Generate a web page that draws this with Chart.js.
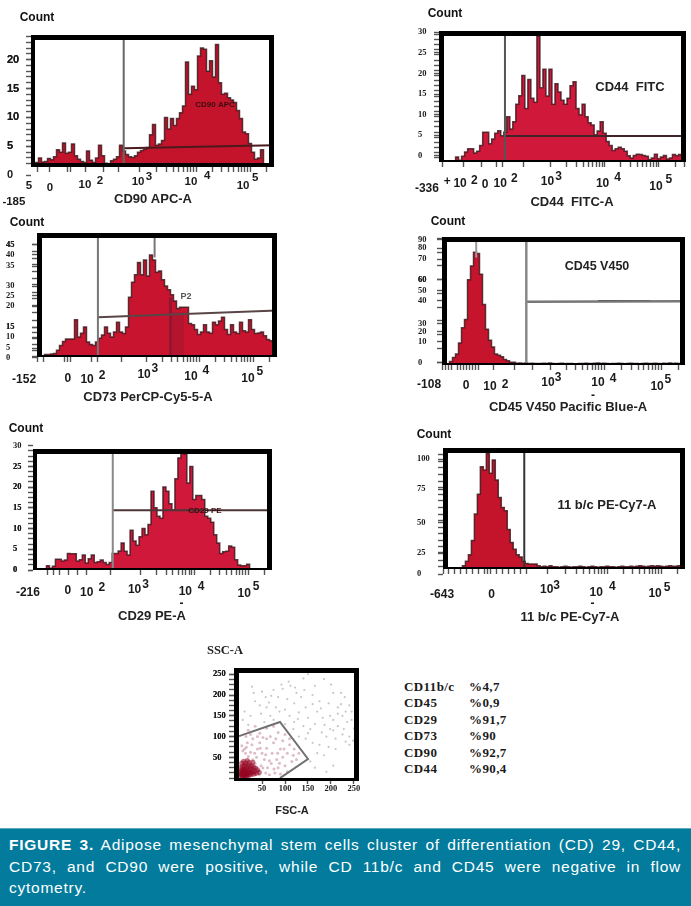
<!DOCTYPE html>
<html>
<head>
<meta charset="utf-8">
<title>Figure 3</title>
<script src="https://cdn.jsdelivr.net/npm/chart.js@4"></script>
<style>
html, body { margin: 0; padding: 0; background: #fff; }
#page { position: relative; width: 691px; height: 906px; overflow: hidden; background: #fff; }
canvas { position: absolute; }
.row { position: absolute; font: bold 13px "Liberation Serif", serif; letter-spacing: .4px; color: #1a1a1a; white-space: nowrap; }
#caption { position: absolute; left: 0; top: 828px; width: 691px; height: 78px; background: #027b9c; border-top: 1px solid #5aa9c0; box-sizing: border-box; color: #fff; font: 15.5px/21.5px "Liberation Sans", sans-serif; letter-spacing: .75px; }
#caption div { position: absolute; left: 9px; width: 672px; text-align: justify; text-align-last: justify; white-space: nowrap; }
#caption div:last-child { text-align-last: left; }
</style>
</head>
<body>
<div id="page"></div>
<script>
// histogram heights, one value per bin of the x axis
const cd90Counts = [1.6,1.8,2.2,3.0,2.3,2.4,2.9,2.7,3.2,4.4,4.0,5.6,3.8,4.0,5.4,3.4,2.8,2.4,2.2,4.2,2.6,2.2,3.0,5.2,3.4,2.1,1.9,2.5,2.8,3.2,5.2,4.2,3.6,3.2,3.1,3.4,4.0,4.3,4.5,4.8,7.0,8.8,5.2,5.4,6.0,10.0,8.0,9.8,8.6,9.8,10.8,12,19.6,14,15.4,14.8,20.6,22,21.8,18,19.8,17,22.6,16,14,14.2,13.4,13,12.6,11.2,9.8,7.5,7.2,5.5,4.0,2.8,3.0,4.4,1.9,1.7,1.6];
const cd44Counts = [0.2,0.2,0.2,0.2,0.2,0.3,1.2,0.4,1.4,2.4,3.2,3.2,2.2,2.6,4.0,7.2,7.2,4.4,5.6,7.0,7.6,6.4,7.2,11.0,8.0,9.8,14.0,16.1,21.0,13.0,20.0,15.5,14.5,30.5,18,22.5,16,22.5,14,19,17,15,14,15.5,18.5,19.5,13,11.5,14,11,9.5,9,6.6,7.5,9.8,7,5,4,2.8,3.2,3.6,3.2,2.6,1.5,1,1.6,1.9,1.8,1.6,1.4,0.6,1.0,1.9,0.8,1.2,1.6,0.7,1.0,1.8,1.5,1.8,1.5];
const cd73Counts = [0.2,0.2,0.4,1,1,1.2,1.4,2.7,4.6,6.2,7.2,7.2,7.2,15,8,9.5,12,6,5,4.6,6,7.5,8.8,12,9.5,8,10,14,10,9.4,12,24,30,33,38,33,39,32.5,41,39,34,34.5,31,28.5,27,25,22.5,19.5,20,20,20,13.5,13,11,9,10,13,10,9.5,14,13,14.5,16,11,9,13,10,9.4,14,10.5,10,15,11,9.4,9.6,10,8.5,7,6.5,6];
const cd45Counts = [0,0,0.8,2.5,5.5,8,16,27,33,62,72,82,81,66,44,26,18,13,8,7,6,4,3,2,2,1.2,1.5,1,1.5,1,1.2,1,1,1,1.2,1,1.4,1,0.8,1,1.2,0.8,1,1,0.8,0.8,1,1,1.2,1,1,1.2,1.4,1,1.2,1,0.8,1,1,1.2,1,0.8,1,1.2,1,1,0.8,1,1.2,1,1,1.2,1,0.8,1.2,1,1.4,1,1.2,1,1];
const cd29Counts = [0,0,0,0.2,0.3,1,0.4,0.9,2.6,2.6,2.2,2.4,4,3.9,3.9,2.2,2.5,3.6,1.7,2.7,3.6,1.8,2,2.4,1.8,1.3,1.8,4,4,4.6,6.5,4.5,3.6,9.6,7,6,8,10,8.5,11,19,15,13,12.5,20,19,16,14.5,22,27,29,28,21,25,17,18,18,17,13,12.5,11.5,8.5,6.5,4,4.4,4.5,5.8,5.5,2.5,1.2,1,1,1.4,0.3,0,0,0,0,0,0];
const cd11Counts = [0,0.5,0.5,0.5,0.5,0.5,0.5,3,7,13,26,50,68,93,90,105,87,99,81,65,56,53,36,24,18,13,11,7,5,4.5,4.5,4.5,3,2,2.5,2,3,2,2,1.5,2,2.5,2,1.5,2,2,2.5,2,1.5,2,2.5,2,1.5,2,2,2.5,2,2,1.5,2,2.5,2,2,2.5,2,2.5,3,2.5,2,2.5,3,2.5,3,2.5,2,2.5,3,2.5,2.5,3,2.5];

// y tick labels and where they sit on the y scale
const cd90YText = ['20','15','10','5','0'];
const cd90YAt = [20,15,10,5,0];
const cd44YText = ['30','25','20','15','10','5','0'];
const cd44YAt = [31.5,26.5,21.5,16.5,11.5,6.5,1.5];
const cd73YText = ['45','40','35','30','25','20','15','10','5','0'];
const cd73YAt = [45,41,36.5,28.5,24.5,20.4,12,8,3.6,-0.4];
const cd45YText = ['90','80','70','60','50','40','30','20','10','0'];
const cd45YAt = [91,85,77,62,54,47,30,24,17,1.5];
const cd29YText = ['30','25','20','15','10','5','0'];
const cd29YAt = [30,25,20,15,10,5,0];
const cd11YText = ['100','75','50','25','0'];
const cd11YAt = [100,72.5,42,14.7,-4.6];

// x tick labels: text, position in bins, distance below the frame
const cd90XText = ['-185','5','0','10','2','10','3','10','4','10','5'];
const cd90XAt = [-5.7,-0.7,6.3,18,23,35.7,39.3,53.3,58.7,70.7,74.7];
const cd90XDrop = [35,19,21,18,14,15,10,15,9,19,11];
const cd44XText = ['-336','+','10','2','0','10','2','10','3','10','4','10','5'];
const cd44XAt = [-4,2.7,7,11.7,15.3,20.3,25,36,39.7,54.3,59.3,72,76.3];
const cd44XDrop = [27,20,22,19,23,22,17,20,15,22,16,25,18];
const cd73XText = ['-152','0','10','2','10','3','10','4','10','5'];
const cd73XAt = [-4.3,10.3,16.7,21.7,35.7,39.3,51.3,56.3,70.3,74.3];
const cd73XDrop = [23,22,23,19,18,12,20,14,22,15];
const cd45XText = ['-108','0','10','2','10','3','10','4','10','5','-'];
const cd45XAt = [-4.3,8,16,21,35.3,38.7,52,57,71.7,75.3,50.3];
const cd45XDrop = [20,21,22,20,18,13,18,14,22,15,31];
const cd29XText = ['-216','0','10','2','10','3','10','4','10','5','-'];
const cd29XAt = [-1.7,11.7,18,23,34,37.7,51,56.3,70.7,74.7,49.7];
const cd29XDrop = [23,21,23,18,20,15,22,17,24,17,34];
const cd11XText = ['-643','0','10','3','10','4','10','5','-'];
const cd11XAt = [-0.3,16.3,34.7,38,51.3,56.7,71,75,50];
const cd11XDrop = [26,26,21,17,24,18,25,19,35];

// percent table under the histograms
const tableNames = ['CD11b/c','CD45','CD29','CD73','CD90','CD44'];
const tablePercents = ['%4,7','%0,9','%91,7','%90','%92,7','%90,4'];

// FSC-A / SSC-A dot plot
const dotsGrey = [[28,220],[32,205],[50,208],[58,195],[70,198],[92,225],[95,215],[108,232],[112,222],[122,218],[125,205],[140,240],[150,250],[165,222],[185,238],[200,225],[205,205],[222,205],[230,195],[35,185],[45,175],[65,182],[80,170],[105,190],[120,180],[135,195],[145,170],[160,200],[175,185],[195,180],[215,170],[240,175],[12,160],[25,150],[48,155],[68,150],[88,160],[110,150],[130,158],[150,145],[170,160],[182,145],[198,150],[205,140],[215,155],[225,150],[235,135],[245,160],[250,120],[140,125],[155,118],[165,130],[180,110],[190,100],[205,115],[215,125],[225,105],[240,100],[248,90],[130,100],[145,95],[160,85],[175,80],[195,75],[210,70],[170,60],[185,55],[155,40],[165,25],[205,30],[190,15],[240,80],[100,165],[120,135],[100,130],[128,142],[228,118],[210,95],[232,88],[186,128],[150,108],[118,118],[75,140],[55,135],[20,128],[8,140],[198,118],[178,168],[160,178],[142,212],[85,195],[75,212],[60,170],[245,140],[222,178],[232,160]];
const dotsPink = [[20,115],[35,125],[45,108],[60,120],[75,125],[85,110],[100,105],[95,90],[110,80],[120,70],[130,60],[105,60],[90,70],[75,85],[60,95],[45,85],[30,95],[15,100],[115,40],[125,45],[100,30],[85,25],[95,50],[72,60],[60,72],[50,60],[82,45],[70,35],[55,45],[40,70],[28,80],[18,85],[38,50],[25,62],[12,70],[62,25],[48,30],[35,35],[78,12],[58,12],[42,18],[90,10],[105,15],[68,100],[52,98],[80,95],[110,95],[25,105],[40,100],[118,55],[34,60],[46,72],[58,56],[66,42],[76,22],[88,36],[98,70],[84,60],[30,44],[20,52],[14,60],[8,66],[6,78],[16,74],[52,24],[44,8],[66,8],[36,8]];
const dotsRed = [[4,4],[8,3],[12,5],[16,4],[20,6],[6,9],[10,10],[14,9],[18,11],[22,9],[26,8],[4,14],[8,15],[12,16],[16,15],[20,17],[24,14],[28,13],[32,10],[6,20],[10,22],[14,21],[18,24],[22,20],[26,22],[30,18],[34,16],[38,12],[4,26],[8,28],[12,30],[16,28],[20,32],[24,28],[28,30],[32,26],[36,24],[40,20],[44,14],[6,36],[10,40],[14,36],[18,42],[22,38],[30,38],[7,7],[11,7],[15,7],[9,12],[13,12],[17,13],[5,17],[7,11],[3,9],[11,18]];
const dotGate = [[0,101],[89,135],[150,46],[89,0]];
const dotXTicks = [50,100,150,200,250];
const dotYTicks = [250,200,150,100,50];

/**
 * 規則的な目盛りの位置を作る
 */
function ladder(from, to, step) {
    const out = [];
    for (let v = from; v <= to; v += step) out.push(v);
    return out;
}

/**
 * デケード毎の細かい目盛りの位置を作る
 */
function decadeTicks(left, decades) {
    const out = left.slice();
    decades.forEach((d, i) => {
        const span = i + 1 < decades.length ? decades[i + 1] - d : decades[i] - decades[i - 1];
        out.push(d);
        for (let k = 2; k < 10; k++) out.push(d + Math.log10(k) * span);
    });
    return out;
}

const sans = '"Liberation Sans", Arial, sans-serif';
const serif = '"Liberation Serif", serif';

// frame is the outer edge of the thick border, bars is [top, right, bottom, left]
const panels = [
    { counts: cd90Counts, box: [0, 0, 290, 215], frame: [31, 35, 274, 167], bars: [5, 5, 4, 4], labelLeft: 7, bins: 81,
      yMin: 1.44, yMax: 24.25, yText: cd90YText, yAt: cd90YAt, yFont: 'bold 11px ' + sans, yMinor: ladder(2, 24, 1),
      xText: cd90XText, xAt: cd90XAt, xDrop: cd90XDrop, xFont: 'bold 11.5px ' + sans, xTicks: decadeTicks([2, 6, 12, 13, 18, 24, 29], [36, 55, 73]),
      fill: '#c3142b',
      gates: [[[30.9, 1.4], [30.9, 25]], [[31, 4.7], [81, 5.2]], [[31, 2], [81, 1.9]]], gateColors: ['#666', '#4a1a1c', '#555'],
      texts: [['Count', 37, 18, 'bold 12px ' + sans, '#111'], ['CD90 APC-A', 153, 199, 'bold 13px ' + sans, '#222'], ['CD90 APC', 215, 105, 'bold 8px ' + sans, '#3a0c10']] },
    { counts: cd44Counts, box: [400, 0, 291, 215], frame: [439, 31, 686, 162], bars: [5, 5, 2, 5], labelLeft: 418, bins: 82,
      yMin: 0, yMax: 31.8, yText: cd44YText, yAt: cd44YAt, yFont: 'bold 8.5px ' + serif, yMinor: ladder(1, 31, 1.25),
      xText: cd44XText, xAt: cd44XAt, xDrop: cd44XDrop, xFont: 'bold 12px ' + sans, xTicks: decadeTicks([1, 8, 14, 19, 21, 28], [37, 55, 73]),
      fill: '#d0183a',
      gates: [[[21.9, 0], [21.9, 32]], [[21.9, 6.3], [82, 6.3]]], gateColors: ['#555', '#3f2528'],
      texts: [['Count', 445, 14, 'bold 12px ' + sans, '#111'], ['CD44  FITC-A', 572, 202, 'bold 13px ' + sans, '#222'], ['CD44  FITC', 630, 87, 'bold 13px ' + sans, '#222']] },
    { counts: cd73Counts, box: [0, 215, 290, 200], frame: [37, 233, 277, 357], bars: [5, 5, 2, 5], labelLeft: 6, bins: 80,
      yMin: 0, yMax: 49.8, yText: cd73YText, yAt: cd73YAt, yFont: 'bold 8.5px ' + serif,
      yMinor: [45,42.5,39.5,37,34.5,31.5,29,26,23.4,20.7,18,14.7,12,10,7.4,5,2.7,0.3],
      xText: cd73XText, xAt: cd73XAt, xDrop: cd73XDrop, xFont: 'bold 12px ' + sans, xTicks: decadeTicks([0, 2, 9, 10, 11, 18, 20, 28], [36.4, 54, 72]),
      fill: '#c8142e',
      gates: [[[20.3, 0], [20.3, 50]], [[20.3, 16], [80, 18.7]], [[39.2, 40], [39.2, 50]], [[44.5, 0], [44.5, 24]], [[47, 0], [47, 18]]],
      gateColors: ['#777', '#5a4547', '#777', 'rgba(90,20,50,.45)', 'rgba(90,20,50,.18)'], gateWidths: [2, 2, 2, 3, 12],
      texts: [['Count', 27, 223, 'bold 12px ' + sans, '#111'], ['CD73 PerCP-Cy5-5-A', 148, 397, 'bold 13px ' + sans, '#222'], ['P2', 186, 297, 'bold 9px ' + sans, '#555']] },
    { counts: cd45Counts, box: [400, 215, 291, 200], frame: [442, 237, 685, 365], bars: [5, 5, 2, 5], labelLeft: 418, bins: 81,
      yMin: 0, yMax: 93, yText: cd45YText, yAt: cd45YAt, yFont: 'bold 8.5px ' + serif, yMinor: ladder(2, 92, 10),
      xText: cd45XText, xAt: cd45XAt, xDrop: cd45XDrop, xFont: 'bold 12px ' + sans, xTicks: decadeTicks([0, 1, 2, 3, 5, 6, 7, 8, 9, 10, 11, 12, 17, 24, 30], [36, 54, 73]),
      fill: '#c6142c',
      gates: [[[28.1, 0], [28.1, 93]], [[28.1, 45.9], [81, 46.4]], [[52, 46.6], [69.4, 46.6]], [[11.4, 78], [11.4, 93]]],
      gateColors: ['#888', '#777', '#222', '#999'], gateWidths: [2.5, 2.5, 1.5, 2],
      texts: [['Count', 448, 222, 'bold 12px ' + sans, '#111'], ['CD45 V450 Pacific Blue-A', 568, 407, 'bold 13px ' + sans, '#222'], ['CD45 V450', 597, 267, 'bold 12.5px ' + sans, '#222']] },
    { counts: cd29Counts, box: [0, 420, 290, 205], frame: [33, 449, 272, 570], bars: [5, 5, 2, 4], labelLeft: 13, bins: 80,
      yMin: 0, yMax: 29.2, yText: cd29YText, yAt: cd29YAt, yFont: 'bold 8.5px ' + serif, yMinor: ladder(0, 29, 1.25),
      xText: cd29XText, xAt: cd29XAt, xDrop: cd29XDrop, xFont: 'bold 12px ' + sans, xTicks: decadeTicks([5, 7, 9, 12, 15, 18, 26], [36, 54, 72]),
      fill: '#d0183a',
      gates: [[[26.7, 0], [26.7, 30]], [[26.7, 14.4], [80, 14.4]]], gateColors: ['#888', '#4e3436'],
      texts: [['Count', 26, 429, 'bold 12px ' + sans, '#111'], ['CD29 PE-A', 152, 616, 'bold 13px ' + sans, '#222'], ['CD29 PE', 205, 511, 'bold 8px ' + sans, '#3a0c10']] },
    { counts: cd11Counts, box: [400, 420, 291, 205], frame: [443, 448, 685, 569], bars: [5, 5, 2, 5], labelLeft: 417, bins: 81,
      yMin: 0, yMax: 110, yText: cd11YText, yAt: cd11YAt, yFont: 'bold 8.5px ' + serif, yMinor: ladder(2, 108, 6),
      xText: cd11XText, xAt: cd11XAt, xDrop: cd11XDrop, xFont: 'bold 12px ' + sans, xTicks: decadeTicks([0, 2, 4, 6, 8, 10, 12, 14, 15, 16, 18, 20, 22, 24, 26, 28], [35, 55, 73]),
      fill: '#c4142b',
      gates: [[[27.2, 0], [27.2, 110]]], gateColors: ['#333'],
      texts: [['Count', 434, 435, 'bold 12px ' + sans, '#111'], ['11 b/c PE-Cy7-A', 570, 617, 'bold 13px ' + sans, '#222'], ['11 b/c PE-Cy7-A', 607, 505, 'bold 13px ' + sans, '#222']] }
];

const page = document.getElementById('page');

/**
 * canvasを追加してコンテキストを返す
 */
function addCanvas(box) {
    const el = document.createElement('canvas');
    el.width = box[2];
    el.height = box[3];
    el.style.left = box[0] + 'px';
    el.style.top = box[1] + 'px';
    page.appendChild(el);
    return el.getContext('2d');
}

/**
 * 太枠とテキストを描くプラグイン
 */
function decorPlugin(p) {
    return {
        id: 'decor',
        afterDatasetsDraw(chart) {
            const a = chart.chartArea, c = chart.ctx;
            c.save();
            c.fillStyle = '#000';
            c.fillRect(a.left, a.top, a.right - a.left, p.bars[0]);
            c.fillRect(a.right - p.bars[1], a.top, p.bars[1], a.bottom - a.top);
            c.fillRect(a.left, a.bottom - p.bars[2], a.right - a.left, p.bars[2]);
            c.fillRect(a.left, a.top, p.bars[3], a.bottom - a.top);
            c.restore();
        },
        afterDraw(chart) {
            const c = chart.ctx;
            c.save();
            c.textAlign = 'center';
            c.textBaseline = 'middle';
            (p.xText || []).forEach((t, i) => {
                c.font = p.xFont;
                c.fillStyle = '#1a1a1a';
                c.fillText(t, chart.scales.x.getPixelForValue(p.xAt[i]), chart.chartArea.bottom + p.xDrop[i]);
            });
            p.texts.forEach(t => {
                c.font = t[3];
                c.fillStyle = t[4];
                c.fillText(t[0], t[1] - p.box[0], t[2] - p.box[1]);
            });
            c.restore();
        }
    };
}

function parseFont(font) {
    const m = font.match(/^(bold )?([\d.]+)px (.*)$/);
    return { weight: m[1] ? 'bold' : 'normal', size: parseFloat(m[2]), family: m[3] };
}

/**
 * 軸の共通オプション
 */
function axisOptions(min, max, at, text, font, position) {
    return {
        type: 'linear', position, min, max,
        afterBuildTicks: ax => { ax.ticks = at.map(value => ({ value })); },
        border: { display: false },
        grid: { drawOnChartArea: false, tickLength: 5, tickColor: '#555', tickWidth: 1.4 },
        ticks: {
            display: !!text, font: text ? parseFont(font) : undefined, color: '#1a1a1a', padding: 0,
            autoSkip: false, maxRotation: 0, crossAlign: 'far',
            callback: v => { const i = text ? text.values.indexOf(v) : -1; return i >= 0 ? text.labels[i] : ''; }
        }
    };
}

// ヒストグラム6枚
panels.forEach(p => {
    const [fl, ft, fr, fb] = p.frame;
    const gateSets = p.gates.map((g, i) => ({
        type: 'line',
        data: g.map(pt => ({ x: pt[0], y: pt[1] })),
        borderColor: p.gateColors[i],
        borderWidth: p.gateWidths ? p.gateWidths[i] : 2,
        pointRadius: 0, fill: false, order: 0
    }));
    const yOpts = axisOptions(p.yMin, p.yMax, p.yAt.concat(p.yMinor), { values: p.yAt, labels: p.yText }, p.yFont, 'left');
    yOpts.afterFit = s => { s.width = fl - p.labelLeft; };
    const xOpts = axisOptions(0, p.bins, p.xTicks.filter(v => v <= p.bins), null, null, 'bottom');
    xOpts.afterFit = s => { s.height = p.box[1] + p.box[3] - fb; };
    new Chart(addCanvas(p.box), {
        type: 'line',
        data: {
            datasets: [{
                data: p.counts.map((y, x) => ({ x, y })),
                backgroundColor: p.fill,
                borderColor: 'rgba(55,20,26,.8)',
                borderWidth: 1.5,
                pointRadius: 0, stepped: 'middle', fill: 'start', order: 1
            }].concat(gateSets)
        },
        options: {
            responsive: false, animation: false, events: [],
            layout: { padding: { left: p.labelLeft - p.box[0], top: ft - p.box[1], right: p.box[0] + p.box[2] - fr, bottom: 0 } },
            plugins: { legend: { display: false }, tooltip: { enabled: false } },
            scales: { x: xOpts, y: yOpts }
        },
        plugins: [decorPlugin(p)]
    });
});

// FSC-A / SSC-A のドットプロット
const dotPanel = { box: [200, 640, 200, 180], bars: [5, 5, 3, 5],
    texts: [['SSC-A', 225, 651, 'bold 12.5px ' + serif, '#222'], ['FSC-A', 292, 811, 'bold 11px ' + sans, '#222']] };
const dotFont = 'bold 8.5px ' + serif;
const dotYOpts = axisOptions(-7, 265, dotYTicks.concat(ladder(0, 250, 12.5)), { values: dotYTicks, labels: dotYTicks.map(String) }, dotFont, 'left');
dotYOpts.afterFit = s => { s.width = 234 - 213; };
const dotXOpts = axisOptions(-11, 261, dotXTicks, { values: dotXTicks, labels: dotXTicks.map(String) }, dotFont, 'bottom');
dotXOpts.ticks.crossAlign = 'near';
dotXOpts.ticks.padding = 0;
dotXOpts.grid.tickLength = 3;
dotXOpts.afterFit = s => { s.height = 820 - 781; };
new Chart(addCanvas(dotPanel.box), {
    type: 'scatter',
    data: {
        datasets: [
            { data: dotGate.map(d => ({ x: d[0], y: d[1] })), showLine: true, borderColor: '#707070', borderWidth: 2, pointRadius: 0, order: 0 },
            { data: dotsRed.map(d => ({ x: d[0], y: d[1] })), backgroundColor: 'rgba(150,5,35,.55)', borderWidth: 0, pointRadius: 2.6, order: 1 },
            { data: dotsPink.map(d => ({ x: d[0], y: d[1] })), backgroundColor: 'rgba(175,90,115,.4)', borderWidth: 0, pointRadius: 1.5, order: 2 },
            { data: dotsGrey.map(d => ({ x: d[0], y: d[1] })), backgroundColor: 'rgba(130,130,130,.45)', borderWidth: 0, pointRadius: 1.1, order: 3 }
        ]
    },
    options: {
        responsive: false, animation: false, events: [],
        layout: { padding: { left: 213 - 200, top: 668 - 640, right: 400 - 359, bottom: 0 } },
        plugins: { legend: { display: false }, tooltip: { enabled: false } },
        scales: { x: dotXOpts, y: dotYOpts }
    },
    plugins: [decorPlugin(dotPanel)]
});

// 右側の表
tableNames.forEach((name, i) => {
    const y = [687, 703, 720, 736, 753, 769][i];
    [[name, 404], [tablePercents[i], 469]].forEach(cell => {
        const el = document.createElement('div');
        el.className = 'row';
        el.textContent = cell[0];
        el.style.left = cell[1] + 'px';
        el.style.top = (y - 8) + 'px';
        page.appendChild(el);
    });
});

// キャプション
const cap = document.createElement('div');
cap.id = 'caption';
cap.innerHTML = '<div style="top:5px"><b>FIGURE 3.</b> Adipose mesenchymal stem cells cluster of differentiation (CD) 29, CD44,</div>'
    + '<div style="top:26.5px">CD73, and CD90 were positive, while CD 11b/c and CD45 were negative in flow</div>'
    + '<div style="top:48px">cytometry.</div>';
page.appendChild(cap);
</script>
</body>
</html>
